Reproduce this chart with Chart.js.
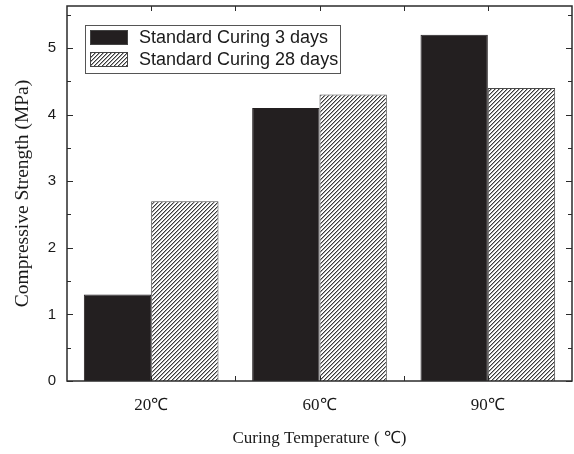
<!DOCTYPE html>
<html>
<head>
<meta charset="utf-8">
<script src="https://cdn.jsdelivr.net/npm/chart.js@4.4.1/dist/chart.umd.min.js"></script>
<style>
  html, body { margin: 0; padding: 0; background: #ffffff; }
  #wrap { width: 574px; height: 454px; position: relative; }
</style>
</head>
<body>
<div id="wrap"><canvas id="c" width="574" height="454"></canvas></div>
<script>
// Curing temperatures and compressive strength (MPa)
const categories = ['20\u2103', '60\u2103', '90\u2103'];
const seriesNames = ['Standard Curing 3 days', 'Standard Curing 28 days'];
const strength3d = [1.3, 4.1, 5.2];
const strength28d = [2.7, 4.3, 4.4];
const yTickValues = [0, 1, 2, 3, 4, 5];
const yMinorValues = [0.5, 1.5, 2.5, 3.5, 4.5, 5.5];

const INK = '#2b2b2b';
const SOLID = '#231f20';

// Diagonal hatch fill ("/" direction)
function makeHatch() {
  const p = document.createElement('canvas');
  p.width = 4; p.height = 4;
  const g = p.getContext('2d');
  g.fillStyle = '#ffffff';
  g.fillRect(0, 0, 4, 4);
  g.fillStyle = '#3a3a3a';
  for (let i = 0; i < 4; i++) g.fillRect(i, 3 - i, 1, 1);
  g.fillStyle = 'rgba(58,58,58,0.45)';
  for (let i = 0; i < 4; i++) g.fillRect((i + 1) % 4, 3 - i, 1, 1);
  return g.createPattern(p, 'repeat');
}
const ctx0 = document.getElementById('c').getContext('2d');
const hatch = makeHatch();

// Frame, inward ticks and the in-plot legend
const framePlugin = {
  id: 'frame',
  afterDraw(chart) {
    const { ctx, chartArea: a, scales } = chart;
    const ys = scales.y, xs = scales.x;
    ctx.save();
    ctx.strokeStyle = INK;
    ctx.lineWidth = 1.5;
    ctx.strokeRect(a.left, a.top, a.right - a.left, a.bottom - a.top);

    ctx.lineWidth = 1;
    const tick = (x1, y1, x2, y2) => {
      ctx.beginPath(); ctx.moveTo(x1, y1); ctx.lineTo(x2, y2); ctx.stroke();
    };
    yTickValues.concat(yMinorValues).forEach(v => {
      const y = Math.round(ys.getPixelForValue(v)) + 0.5;
      const len = yTickValues.includes(v) ? 6 : 4;
      tick(a.left, y, a.left + len, y);
      tick(a.right, y, a.right - len, y);
    });
    // top/bottom ticks at category centres and group boundaries
    const xt = [];
    categories.forEach((c, i) => {
      xt.push(xs.getPixelForValue(i));
      if (i < categories.length - 1) xt.push((xs.getPixelForValue(i) + xs.getPixelForValue(i + 1)) / 2);
    });
    xt.forEach(x => {
      const xx = Math.round(x) + 0.5;
      tick(xx, a.top, xx, a.top + 5);
      tick(xx, a.bottom, xx, a.bottom - 5);
    });

    // legend
    const lx = 85, ly = 25, lw = 255, lh = 48;
    ctx.fillStyle = '#ffffff';
    ctx.fillRect(lx, ly, lw, lh);
    ctx.strokeStyle = '#555555';
    ctx.lineWidth = 1;
    ctx.strokeRect(lx + 0.5, ly + 0.5, lw, lh);
    const ds = chart.data.datasets;
    ds.forEach((d, i) => {
      const sy = ly + 5 + i * 22;
      ctx.fillStyle = d.backgroundColor;
      ctx.fillRect(lx + 5, sy, 38, 15);
      ctx.strokeStyle = '#444444';
      ctx.strokeRect(lx + 5.5, sy + 0.5, 37, 14);
      ctx.fillStyle = '#1a1a1a';
      ctx.font = '18px "Liberation Sans", Arial, sans-serif';
      ctx.textBaseline = 'middle';
      ctx.textAlign = 'left';
      ctx.fillText(d.label, lx + 54, sy + 8);
    });
    ctx.restore();
  }
};

new Chart(ctx0, {
  type: 'bar',
  data: {
    labels: categories,
    datasets: [
      { label: seriesNames[0], data: strength3d, backgroundColor: SOLID, borderColor: SOLID, borderWidth: 1 },
      { label: seriesNames[1], data: strength28d, backgroundColor: hatch, borderColor: '#4a4a4a', borderWidth: 1 }
    ]
  },
  options: {
    responsive: false,
    animation: false,
    devicePixelRatio: 1,
    layout: { padding: { top: 6, right: 2, left: 0, bottom: 0 } },
    datasets: { bar: { categoryPercentage: 0.8, barPercentage: 1.0 } },
    plugins: { legend: { display: false }, tooltip: { enabled: false } },
    scales: {
      x: {
        type: 'category',
        offset: true,
        grid: { display: false, drawTicks: false },
        border: { display: false },
        ticks: {
          color: '#1a1a1a',
          padding: 14,
          font: { family: '"Liberation Serif", "Times New Roman", serif', size: 17 }
        },
        title: {
          display: true,
          text: 'Curing Temperature ( \u2103)',
          color: '#1a1a1a',
          padding: { top: 5, bottom: 5 },
          font: { family: '"Liberation Serif", "Times New Roman", serif', size: 17 }
        },
        afterFit(s) { s.height = 73; s.paddingLeft = 0; s.paddingRight = 0; }
      },
      y: {
        min: 0,
        max: 5.63,
        grid: { display: false, drawTicks: false },
        border: { display: false },
        afterBuildTicks(s) { s.ticks = yTickValues.map(v => ({ value: v })); },
        ticks: {
          color: '#1a1a1a',
          padding: 11,
          font: { family: '"Liberation Sans", Arial, sans-serif', size: 15 }
        },
        title: {
          display: true,
          text: 'Compressive Strength (MPa)',
          color: '#1a1a1a',
          padding: { top: 11, bottom: 0 },
          font: { family: '"Liberation Serif", "Times New Roman", serif', size: 19.5 }
        },
        afterFit(s) { s.width = 67; s.paddingTop = 0; s.paddingBottom = 0; }
      }
    }
  },
  plugins: [framePlugin]
});
</script>
</body>
</html>
